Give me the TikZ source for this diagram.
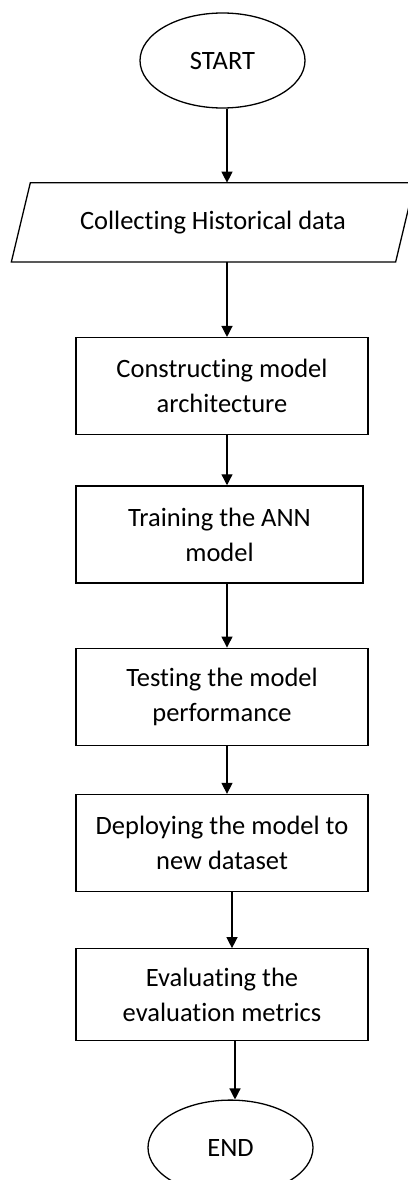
\documentclass[tikz,border=0pt]{standalone}
\usepackage{fontspec}
\setmainfont{Carlito}[Ligatures=NoCommon]
\usetikzlibrary{positioning,shapes.geometric,arrows.meta}

\begin{document}
\begin{tikzpicture}[x=1pt, y=1pt, line width=1.3pt, font=\fontsize{26.5}{35}\selectfont,
        term/.style = {draw, ellipse, minimum width=165pt, minimum height=95pt, inner sep=0pt},
        io/.style = {rectangle, minimum width=383pt, minimum height=78pt, inner sep=0pt},
        process/.style = {draw, rectangle, minimum width=292pt, minimum height=97pt, align=center, inner sep=0pt},
        flow/.style = {-{Triangle[length=11pt,width=11pt]}, line width=1.3pt}]
    \useasboundingbox (0,0) rectangle (407,-1180);
    \node[term] (start) at (222.5,-60.5) {START};
    \node[io, below=74pt of start, xshift=-9.5pt] (collect) {Collecting Historical data};
    \node[process, below=75pt of collect, xshift=9pt] (build) {Constructing model\\architecture};
    \node[process, below=50pt of build, xshift=-2.5pt, minimum width=287pt] (train) {Training the ANN\\model};
    \node[process, below=64pt of train, xshift=2.5pt] (test) {Testing the model\\performance};
    \node[process, below=48pt of test] (deploy) {Deploying the model to\\new dataset};
    \node[process, below=56pt of deploy, minimum height=92pt] (eval) {Evaluating the\\evaluation metrics};
    \node[term, below=58pt of eval, xshift=8.5pt] (end) {END};
    % slanted outline of the data box
    \draw ([xshift=-9.5pt]collect.south west) -- ([xshift=-9.5pt]collect.south east)
        -- ([xshift=9.5pt]collect.north east) -- ([xshift=9.5pt]collect.north west) -- cycle;
    \draw[flow] ([xshift=4.5pt]start.south) -- ([xshift=14pt]collect.north);
    \draw[flow] ([xshift=14pt]collect.south) -- ([xshift=5pt]build.north);
    \draw[flow] ([xshift=5pt]build.south) -- ([xshift=7.5pt]train.north);
    \draw[flow] ([xshift=7.5pt]train.south) -- ([xshift=5pt]test.north);
    \draw[flow] ([xshift=5pt]test.south) -- ([xshift=5pt]deploy.north);
    \draw[flow] ([xshift=10pt]deploy.south) -- ([xshift=10pt]eval.north);
    \draw[flow] ([xshift=13pt]eval.south) -- ([xshift=4.5pt]end.north);
\end{tikzpicture}
\end{document}
